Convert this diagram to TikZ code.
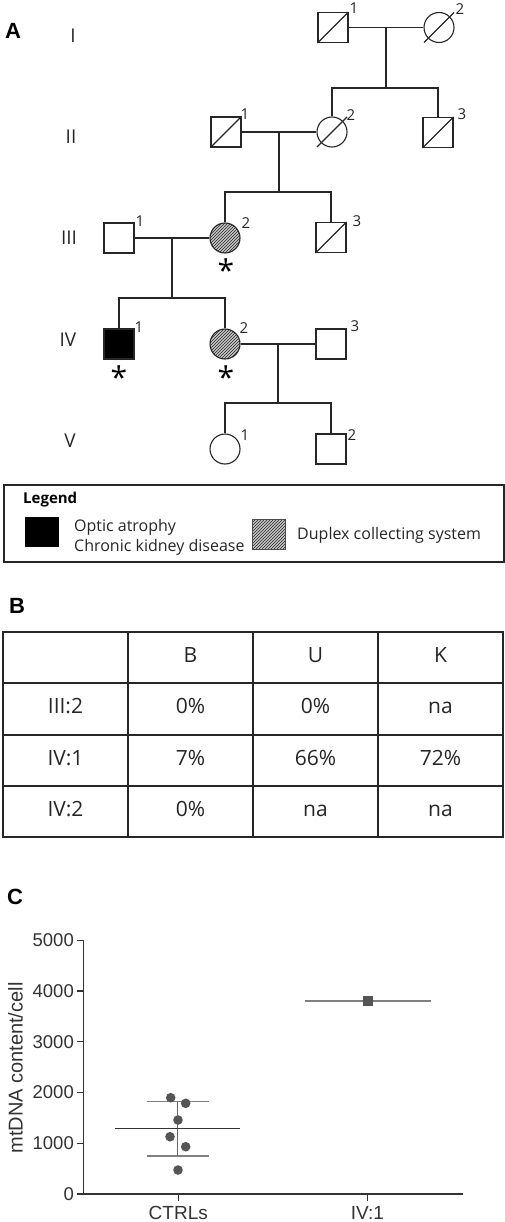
\documentclass[tikz,border=0pt]{standalone}
\usepackage{fontspec}
\setmainfont{Open Sans}
\newfontfamily\arialf{Liberation Sans}
\usetikzlibrary{patterns}
\definecolor{axisc}{HTML}{333333}
\definecolor{dotc}{HTML}{555555}
\definecolor{sdc}{HTML}{808080}
\begin{document}
\begin{tikzpicture}[x=1pt,y=-1pt]
\tikzset{
 ped/.style={line width=1.1pt, draw=black!85},
 male/.style={ped, rectangle, minimum size=30pt, inner sep=0pt},
 female/.style={ped, circle, minimum size=30pt, inner sep=0pt},
 affected/.style={fill=black},
 carrier/.style={preaction={fill=black!22}, pattern=north east lines, pattern color=black!85},
 num/.style={font=\fontsize{15}{15}\selectfont, anchor=base, inner sep=0pt, text=black!85},
 genlab/.style={font=\fontsize{19}{19}\selectfont, anchor=base, inner sep=0pt, text=black!85},
 asterisk/.style={font=\fontsize{30}{30}\selectfont, anchor=base, inner sep=0pt},
 panel/.style={font=\arialf\bfseries\fontsize{22}{22}\selectfont, inner sep=0pt},
 legtext/.style={font=\fontsize{16}{20}\selectfont, anchor=base west, inner sep=0pt, text=black!85},
 cell/.style={font=\fontsize{21}{21}\selectfont, anchor=base, inner sep=0pt, text=black!85},
 tablegrid/.style={line width=1.8pt, draw=black!85},
 ticklab/.style={font=\arialf\fontsize{18.5}{18.5}\selectfont, inner sep=0pt, text=axisc},
 axisline/.style={line width=1.3pt, draw=axisc},
 dot/.style={circle, fill=dotc, minimum size=9.6pt, inner sep=0pt},
}
\useasboundingbox (0,0) rectangle (505,1222);
\fill[white] (0,0) rectangle (505,1222);

% ---------- Panel A ----------
\node[panel] (pA) at (13,31) {A};
\node[genlab] (gI) at (73,43) {I};
\node[genlab] (gII) at (71,143.3) {II};
\node[genlab] (gIII) at (69,245) {III};
\node[genlab] (gIV) at (68,346.7) {IV};
\node[genlab] (gV) at (70,447.3) {V};

% generation I
\node[male] (I1) at (333,27.5) {};
\node[female] (I2) at (439,27.5) {};
% generation II
\node[male] (II1) at (226,132) {};
\node[female] (II2) at (332,132) {};
\node[male] (II3) at (438,132.5) {};
% generation III
\node[male] (III1) at (119,238) {};
\node[female, carrier] (III2) at (225,238) {};
\node[male] (III3) at (331,237.5) {};
% generation IV
\node[male, affected] (IV1) at (119,344) {};
\node[female, carrier] (IV2) at (225,344) {};
\node[male] (IV3) at (331,344) {};
% generation V
\node[female] (V1) at (225,449) {};
\node[male] (V2) at (331,449) {};

% deceased
\foreach \n in {I1,II1,II3,III3} \draw[ped] (\n.south west) -- (\n.north east);
\foreach \n in {I2,II2} \draw[ped] ([shift={(-15,15)}]\n.center) -- ([shift={(15,-15)}]\n.center);

% marriages and sibships
\draw[ped] (I1.east) -- (I2.west);
\coordinate (m1) at (386,27.5);
\coordinate (s1) at (386,88);
\draw[ped] (m1) -- (s1);
\draw[ped] (II2.north) |- (s1) -| (II3.north);

\draw[ped] (II1.east) -- (II2.west);
\coordinate (m2) at (279,132);
\coordinate (s2) at (279,192);
\draw[ped] (m2) -- (s2);
\draw[ped] (III2.north) |- (s2) -| (III3.north);

\draw[ped] (III1.east) -- (III2.west);
\coordinate (m3) at (172,238);
\coordinate (s3) at (172,298);
\draw[ped] (m3) -- (s3);
\draw[ped] (IV1.north) |- (s3) -| (IV2.north);

\draw[ped] (IV2.east) -- (IV3.west);
\coordinate (m4) at (278,344);
\coordinate (s4) at (278,403);
\draw[ped] (m4) -- (s4);
\draw[ped] (V1.north) |- (s4) -| (V2.north);

% individual numbers
\node[num] (nI1) at (354,13.3) {1};
\node[num] (nI2) at (460,15) {2};
\node[num] (nII1) at (245,120) {1};
\node[num] (nII2) at (351,120.5) {2};
\node[num] (nII3) at (462,119.3) {3};
\node[num] (nIII1) at (140,226.7) {1};
\node[num] (nIII2) at (246,228.3) {2};
\node[num] (nIII3) at (357,226.7) {3};
\node[num] (nIV1) at (139,332.7) {1};
\node[num] (nIV2) at (244,333.3) {2};
\node[num] (nIV3) at (355,331.7) {3};
\node[num] (nV1) at (245,440) {1};
\node[num] (nV2) at (352,440.7) {2};

% asterisks
\node[asterisk] (aIII2) at (226,282) {*};
\node[asterisk] (aIV1) at (119,388) {*};
\node[asterisk] (aIV2) at (226,388) {*};

% legend
\node[draw=black!85, line width=1.8pt, minimum width=500pt, minimum height=77pt, inner sep=0pt, anchor=north west] (legbox) at (3,484) {};
\node[font=\bfseries\fontsize{15}{15}\selectfont, anchor=base west, inner sep=0pt] (legtitle) at (23,503.3) {Legend};
\node[fill=black, minimum width=34pt, minimum height=30pt, inner sep=0pt] (legaff) at (42,532) {};
\node[legtext] (legaffT1) at (74,531.7) {Optic atrophy};
\node[legtext] (legaffT2) at (74,551.7) {Chronic kidney disease};
\node[draw=black!70, line width=0.8pt, carrier, minimum width=33pt, minimum height=30pt, inner sep=0pt] (legcar) at (268.5,534) {};
\node[legtext] (legcarT) at (297,539.3) {Duplex collecting system};

% ---------- Panel B ----------
\node[panel] (pB) at (17,606) {B};
\draw[tablegrid] (3,632) rectangle (503,837);
\foreach \yy in {683,735,786} \draw[tablegrid] (3,\yy) -- (503,\yy);
\foreach \xx in {128,253,378} \draw[tablegrid] (\xx,632) -- (\xx,837);
\node[cell] (hB) at (190.5,662) {B};
\node[cell] (hU) at (315.5,662) {U};
\node[cell] (hK) at (440.5,662) {K};
\node[cell] (r1) at (65.5,713.5) {III:2};
\node[cell] (r1B) at (190.5,713.5) {0\%};
\node[cell] (r1U) at (315.5,713.5) {0\%};
\node[cell] (r1K) at (440.5,713.5) {na};
\node[cell] (r2) at (65.5,765) {IV:1};
\node[cell] (r2B) at (190.5,765) {7\%};
\node[cell] (r2U) at (315.5,765) {66\%};
\node[cell] (r2K) at (440.5,765) {72\%};
\node[cell] (r3) at (65.5,816) {IV:2};
\node[cell] (r3B) at (190.5,816) {0\%};
\node[cell] (r3U) at (315.5,816) {na};
\node[cell] (r3K) at (440.5,816) {na};

% ---------- Panel C ----------
\node[panel] (pC) at (15,897) {C};
\coordinate (orig) at (83.3,1194);
\coordinate (ytop) at (83.3,940);
\coordinate (xend) at (463.3,1194);
\draw[axisline] (ytop) -- (orig) -- (xend);
\foreach \k/\lab in {0/0,1/1000,2/2000,3/3000,4/4000,5/5000}{
  \draw[axisline] (83.3,{1194-50.75*\k}) -- (77,{1194-50.75*\k});
  \node[ticklab, anchor=east] (t\k) at (74,{1194-50.75*\k}) {\lab};
}
\draw[axisline] (178.3,1194) -- (178.3,1200.5);
\draw[axisline] (367.3,1194) -- (367.3,1200.5);
\node[font=\arialf\fontsize{19}{19}\selectfont, anchor=base, inner sep=0pt, text=axisc] (xl1) at (178.3,1219.5) {CTRLs};
\node[font=\arialf\fontsize{19}{19}\selectfont, anchor=base, inner sep=0pt, text=axisc] (xl2) at (367.3,1219.5) {IV:1};
\node[font=\arialf\fontsize{20}{20}\selectfont, rotate=90, inner sep=0pt, text=axisc] (ylab) at (15.5,1068) {mtDNA content/cell};

% CTRLs data
\coordinate (sdT) at (177.8,1101.7);
\coordinate (sdB) at (177.8,1156);
\draw[line width=1.1pt, draw=sdc] (147,1101.7) -- (209,1101.7);
\draw[line width=1.1pt, draw=sdc] (147,1156) -- (209,1156);
\draw[line width=1.1pt, draw=sdc!80!black] (sdT) -- (sdB);
\draw[line width=1.3pt, draw=axisc] (115,1128.7) -- (240,1128.7);
\node[dot] (c1) at (170.7,1097.7) {};
\node[dot] (c2) at (185.7,1103.3) {};
\node[dot] (c3) at (178,1120) {};
\node[dot] (c4) at (170,1136.7) {};
\node[dot] (c5) at (185.7,1146.7) {};
\node[dot] (c6) at (178,1170) {};

% IV:1 data
\draw[line width=1.3pt, draw=sdc] (305,1001) -- (431,1001);
\node[fill=dotc, minimum size=10pt, inner sep=0pt] (p1) at (367.7,1001) {};
\end{tikzpicture}
\end{document}
